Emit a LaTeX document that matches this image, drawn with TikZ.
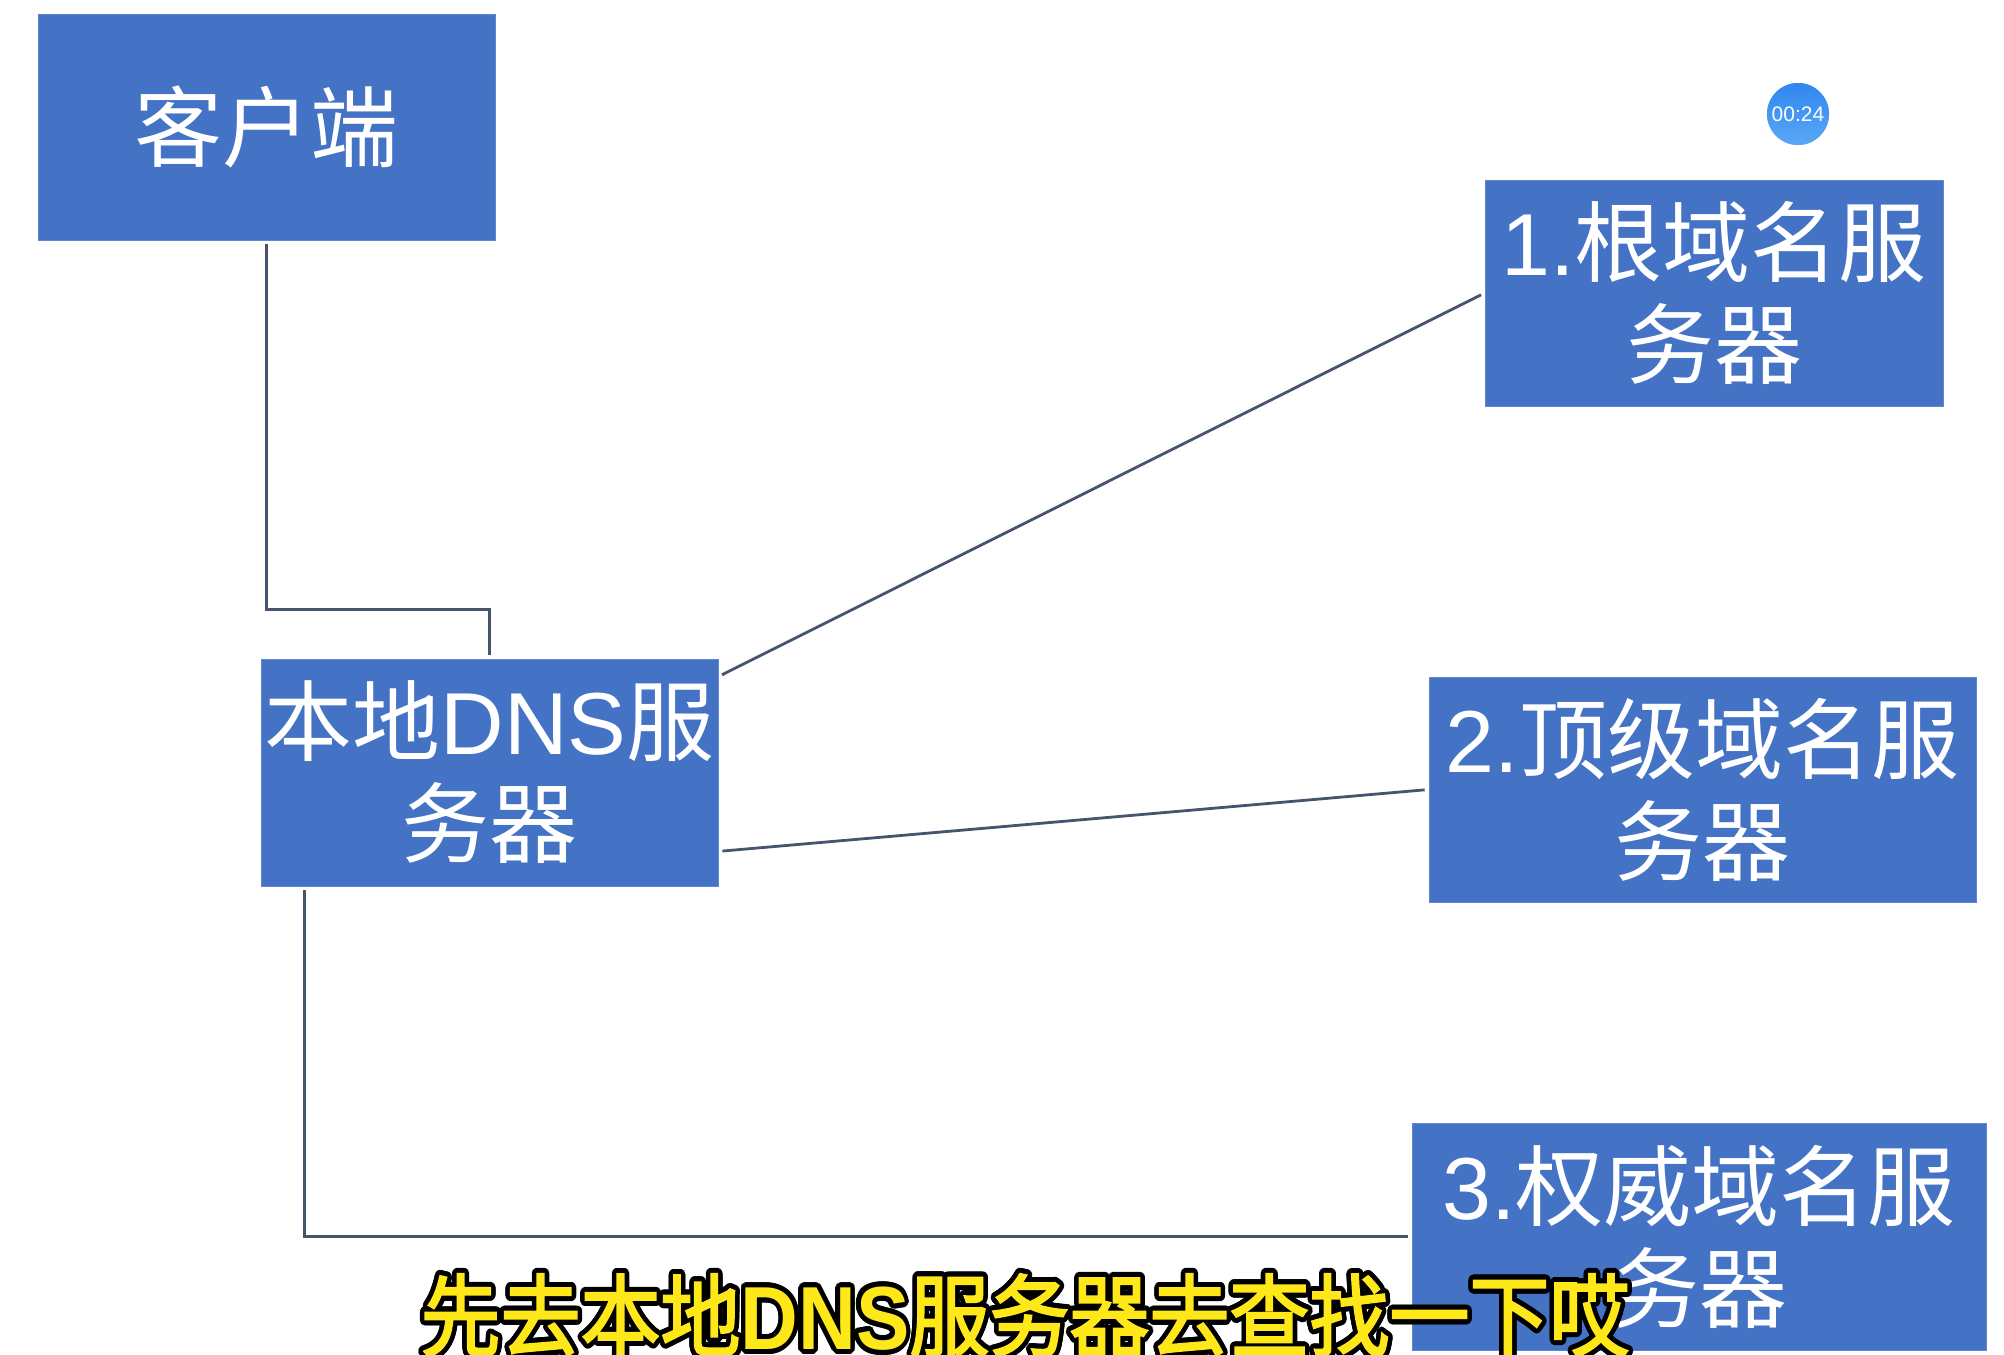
\documentclass[tikz,border=0pt]{standalone}
\usepackage{fontspec}
\setmainfont{Liberation Sans}
\newfontfamily\cjk{Noto Sans CJK SC}
\newfontfamily\cjkb{Noto Sans CJK SC}[FakeBold=2.5]
\newfontfamily\lat{Liberation Sans}
\usepackage[copies]{contour}
\contourlength{4.5pt}
\contournumber{24}
\definecolor{boxblue}{HTML}{4472C4}
\definecolor{linkgray}{HTML}{46546C}
\definecolor{subyellow}{HTML}{FFE81A}
\definecolor{timertop}{HTML}{2F86EE}
\definecolor{timerbot}{HTML}{5AA8F5}
\begin{document}
\begin{tikzpicture}[x=1pt,y=-1pt,
  srv/.style={rectangle, fill=boxblue, draw=boxblue!85!white, line width=0.8pt, inner sep=0pt,
    text=white, align=center, font=\cjk\fontsize{88}{102}\selectfont},
  link/.style={draw=linkgray, line width=2.8pt, shorten <=4pt, shorten >=4pt}]
\useasboundingbox (0,0) rectangle (2004,1354);
\fill[white] (0,0) rectangle (2004,1354);

\node[srv, minimum width=457pt, minimum height=226pt] (client) at (266.5,127) {客户端};
\node[srv, minimum width=457pt, minimum height=227pt] (local) at (489.5,772.5) {本地{\lat DNS}服\\务器};
\node[srv, minimum width=458pt, minimum height=226pt] (root) at (1714,293) {{\lat 1.}根域名服\\务器};
\node[srv, minimum width=547pt, minimum height=225pt] (tld) at (1702.5,789.5) {{\lat 2.}顶级域名服\\务器};
\node[srv, minimum width=574pt, minimum height=227pt] (auth) at (1699,1236.5) {{\lat 3.}权威域名服\\务器};

\draw[link] (client.south) |- ([yshift=49pt]local.north) -- (local.north);
\draw[link] ([yshift=-18pt]local.north east) -- (root.west);
\draw[link] ([yshift=35pt]local.south east) -- (tld.west);
\draw[link] ([xshift=44pt]local.south west) |- (auth.west);

\node[circle, minimum size=64pt, inner sep=0pt, top color=timertop, bottom color=timerbot,
  draw=white, line width=1.5pt, text=white, font=\lat\fontsize{21}{24}\selectfont] (timer) at (1798,114) {00:24};

\node[inner sep=0pt, text=subyellow, font=\cjkb\fontsize{80}{90}\selectfont] (sub) at (1025,1318)
  {\scalebox{1}[1.12]{\contour{black}{先去本地{\lat\bfseries DNS}服务器去查找一下哎}}};
\end{tikzpicture}
\end{document}
